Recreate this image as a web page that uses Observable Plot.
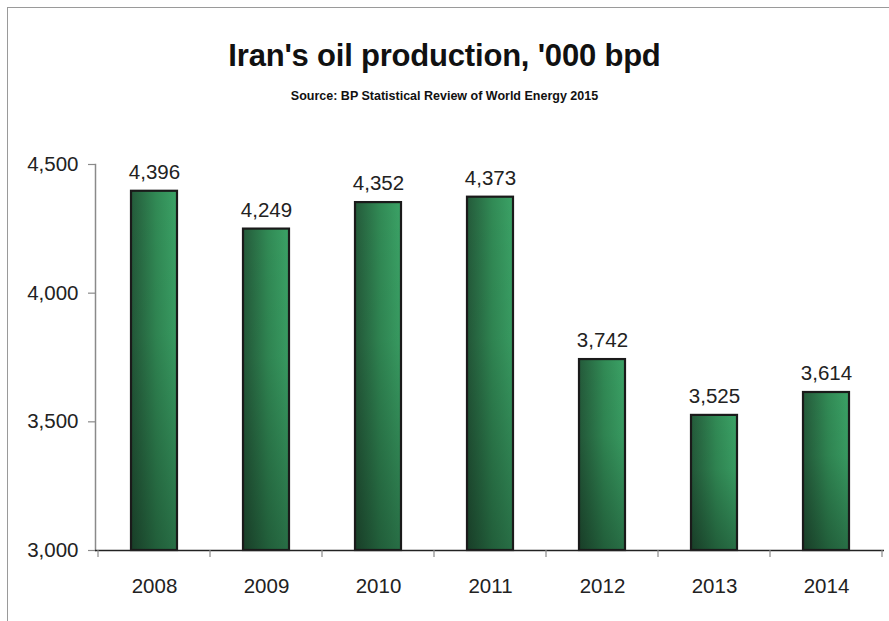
<!DOCTYPE html>
<html>
<head>
<meta charset="utf-8">
<script src="https://cdn.jsdelivr.net/npm/d3@7"></script>
<script src="https://cdn.jsdelivr.net/npm/@observablehq/plot@0.6"></script>
<style>
  html, body { margin: 0; padding: 0; background: #fff; }
  #wrap { position: relative; width: 889px; height: 621px; overflow: hidden; font-family: "Liberation Sans", Arial, sans-serif; }
  #frame { position: absolute; left: 7px; top: 7px; right: -2px; bottom: -2px; border-left: 1px solid #9a9a9a; border-top: 1px solid #9a9a9a; }
  #title { position: absolute; left: 0; width: 889px; top: 38px; text-align: center; font-weight: bold; font-size: 31px; color: #111; letter-spacing: -0.2px; }
  #subtitle { position: absolute; left: 0; width: 889px; top: 89px; text-align: center; font-weight: bold; font-size: 12.5px; color: #111; }
  #chart { position: absolute; left: 0; top: 130px; }
</style>
</head>
<body>
<div id="wrap">
  <div id="frame"></div>
  <div id="title">Iran's oil production, '000 bpd</div>
  <div id="subtitle">Source: BP Statistical Review of World Energy 2015</div>
  <div id="chart"></div>
</div>
<script>
const years = ["2008", "2009", "2010", "2011", "2012", "2013", "2014"];
const production = [4396, 4249, 4352, 4373, 3742, 3525, 3614];
const yTicks = [3000, 3500, 4000, 4500];

const data = years.map((year, i) => ({ year, value: production[i] }));
const fmt = d3.format(",");

function bandBoundaryTicks(index, scales, values, dims, context) {
  const x = scales.x;
  const bw = x.bandwidth ? x.bandwidth() : 0;
  const step = x.step ? x.step() : 0;
  const baseY = dims.height - dims.marginBottom;
  const g = d3.select(context.document.createElementNS("http://www.w3.org/2000/svg", "g"));
  const bounds = years.map(y => x(y) + bw / 2 - step / 2);
  bounds.push(x(years[years.length - 1]) + bw / 2 + step / 2);
  for (const b of bounds) {
    g.append("line").attr("x1", b).attr("x2", b).attr("y1", baseY).attr("y2", baseY + 7)
      .attr("stroke", "#8a8a8a").attr("stroke-width", 1.2);
  }
  return g.node();
}

const plot = Plot.plot({
  width: 889,
  height: 491,
  marginLeft: 95,
  marginRight: 5,
  marginTop: 34,
  marginBottom: 71,
  style: { fontFamily: "'Liberation Sans', Arial, sans-serif", background: "transparent", color: "#222" },
  x: { domain: years, paddingInner: 0.59, paddingOuter: 0.295, label: null },
  y: { domain: [3000, 4500], label: null },
  marks: [
    Plot.barY(data, { x: "year", y1: 3000, y2: "value", fill: "url(#gradH)" }),
    Plot.barY(data, { x: "year", y1: 3000, y2: "value", fill: "url(#gradV)", stroke: "#1a1a1a", strokeWidth: 2.2 }),
    Plot.axisY({ ticks: yTicks, tickFormat: fmt, tickSize: 7, tickPadding: 10, fontSize: 20.5, stroke: "#8a8a8a", strokeWidth: 1.2, fill: "#222" }),
    Plot.frame({ anchor: "left", stroke: "#8a8a8a", strokeWidth: 1.5 }),
    Plot.ruleY([3000], { stroke: "#222", strokeWidth: 1.5 }),
    bandBoundaryTicks,
    Plot.axisX({ tickSize: 0, tickPadding: 28, fontSize: 20.5, fill: "#222" }),
    Plot.text(data, { x: "year", y: "value", text: d => fmt(d.value), dy: -19, fontSize: 20.5, fill: "#222" })
  ]
});

const ns = "http://www.w3.org/2000/svg";
const defs = document.createElementNS(ns, "defs");
defs.innerHTML = `
  <linearGradient id="gradH" x1="0" y1="0" x2="1" y2="0">
    <stop offset="0" stop-color="#245a3a"/>
    <stop offset="0.55" stop-color="#318a55"/>
    <stop offset="1" stop-color="#3ba266"/>
  </linearGradient>
  <linearGradient id="gradV" x1="0" y1="0" x2="0" y2="1">
    <stop offset="0" stop-color="#000" stop-opacity="0"/>
    <stop offset="0.4" stop-color="#000" stop-opacity="0.05"/>
    <stop offset="1" stop-color="#000" stop-opacity="0.32"/>
  </linearGradient>`;
plot.insertBefore(defs, plot.firstChild);
document.getElementById("chart").appendChild(plot);
</script>
</body>
</html>
